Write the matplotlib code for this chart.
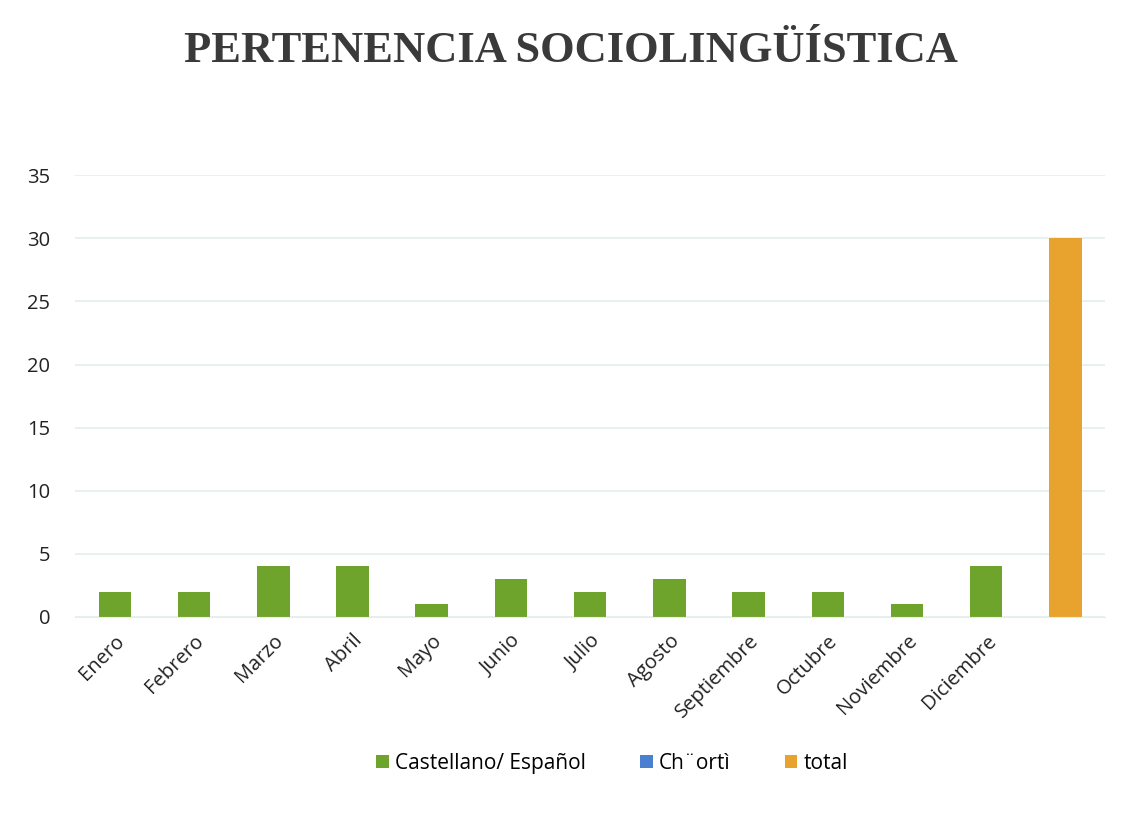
import matplotlib
matplotlib.use("Agg")
import matplotlib.pyplot as plt
from matplotlib.patches import Patch
import numpy as np

categories = ["Enero", "Febrero", "Marzo", "Abril", "Mayo", "Junio", "Julio",
              "Agosto", "Septiembre", "Octubre", "Noviembre", "Diciembre", ""]
castellano = [2, 2, 4, 4, 1, 3, 2, 3, 2, 2, 1, 4, 0]
chorti = [0, 0, 0, 0, 0, 0, 0, 0, 0, 0, 0, 0, 0]
total = [0, 0, 0, 0, 0, 0, 0, 0, 0, 0, 0, 0, 30]
series_names = ["Castellano/ Español", "Ch¨ortì", "total"]
colors = ["#6fa42c", "#4a80cf", "#e8a22e"]
yticks = [0, 5, 10, 15, 20, 25, 30, 35]

fig = plt.figure(figsize=(11.23, 8.15), dpi=100)
ax = fig.add_axes([0.067, 0.243, 0.917, 0.542])

x = np.arange(len(categories))
w = 0.41
ax.bar(x, castellano, w, color=colors[0])
ax.bar(x, chorti, w, bottom=castellano, color=colors[1])
ax.bar(x, total, w, bottom=np.add(castellano, chorti), color=colors[2])

ax.set_xlim(-0.5, len(categories) - 0.5)
ax.set_ylim(0, 35)
ax.set_yticks(yticks)
ax.set_xticks(x)
ax.set_xticklabels(categories, rotation=45, ha="right", rotation_mode="anchor",
                   fontsize=14.5, family="Open Sans", color="#222222")
for lab in ax.get_yticklabels():
    lab.set_fontsize(14.5)
    lab.set_family("Open Sans")
    lab.set_color("#222222")
ax.tick_params(axis="both", length=0)
ax.tick_params(axis="y", pad=18)
ax.tick_params(axis="x", pad=10)
ax.grid(axis="y", color="#e3efec", linewidth=1.2)
ax.set_axisbelow(True)
for s in ["top", "right", "left"]:
    ax.spines[s].set_visible(False)
ax.spines["bottom"].set_color("#e3efec")

fig.text(0.508, 0.938, "PERTENENCIA SOCIOLINGÜÍSTICA", ha="center", va="center",
         fontsize=32, family="Liberation Serif", fontweight="bold", color="#3a3a3a")

handles = [Patch(facecolor=c, edgecolor="none") for c in colors]
fig.legend(handles, series_names, loc="center", bbox_to_anchor=(0.545, 0.063),
           ncol=3, frameon=False, prop={"family": "Open Sans", "size": 15},
           handlelength=0.6, handleheight=0.6, handletextpad=0.3, columnspacing=2.6)

fig.savefig("out.png", dpi=100, facecolor="white")
